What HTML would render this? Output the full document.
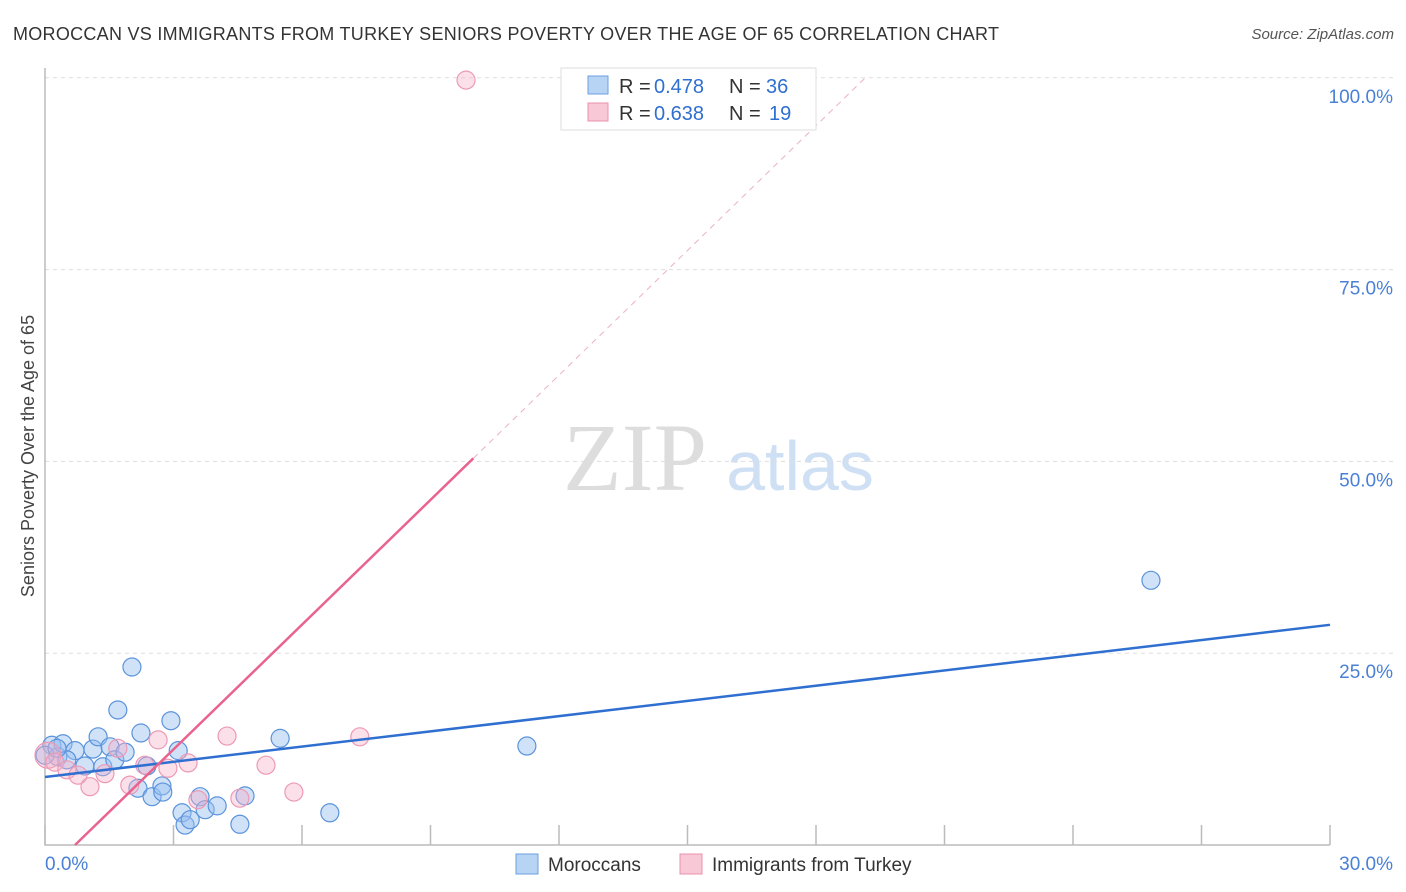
<!DOCTYPE html>
<html><head><meta charset="utf-8"><style>
body{margin:0;background:#fff;font-family:"Liberation Sans",sans-serif}
svg{display:block}
</style></head><body>
<svg width="1406" height="892" id="c">
<text x="13" y="40" font-size="18" fill="#333" textLength="986" lengthAdjust="spacing">MOROCCAN VS IMMIGRANTS FROM TURKEY SENIORS POVERTY OVER THE AGE OF 65 CORRELATION CHART</text>
<text x="1394" y="39" font-size="15" fill="#555" font-style="italic" text-anchor="end">Source: ZipAtlas.com</text>
<text x="34" y="456" font-size="18" fill="#444" text-anchor="middle" transform="rotate(-90 34 456)">Seniors Poverty Over the Age of 65</text>
<g><text x="635" y="490" font-size="96" fill="#ddd" font-family="Liberation Serif" text-anchor="middle">ZIP</text><text x="800" y="490" font-size="70" fill="#cfe0f5" text-anchor="middle">atlas</text></g>
<g id="grid"></g><g id="marks"></g>
<g>
<rect x="561" y="68" width="255" height="62" fill="#fff" stroke="#ddd"/>
<rect x="588" y="76" width="20" height="18" fill="#b8d4f5" stroke="#6a9fe0"/>
<text x="619" y="93" font-size="20" fill="#333">R =</text><text x="654" y="93" font-size="20" fill="#2f6fd0">0.478</text>
<text x="729" y="93" font-size="20" fill="#333">N =</text><text x="766" y="93" font-size="20" fill="#2f6fd0">36</text>
<rect x="588" y="103" width="20" height="18" fill="#f8c8d6" stroke="#e890ab"/>
<text x="619" y="120" font-size="20" fill="#333">R =</text><text x="654" y="120" font-size="20" fill="#2f6fd0">0.638</text>
<text x="729" y="120" font-size="20" fill="#333">N =</text><text x="769" y="120" font-size="20" fill="#2f6fd0">19</text>
</g>
<g>
<rect x="516" y="854" width="22" height="20" fill="#b8d4f5" stroke="#6a9fe0"/>
<text x="548" y="871" font-size="19" fill="#333">Moroccans</text>
<rect x="680" y="854" width="22" height="20" fill="#f8c8d6" stroke="#e890ab"/>
<text x="712" y="871" font-size="19" fill="#333">Immigrants from Turkey</text>
</g>
</svg>
<script>
const yTicks=[25,50,75,100];
const yTickLabels=["25.0%","50.0%","75.0%","100.0%"];
const blueX=[0.16,0.30,0.42,0.70,0.51,0.93,1.12,1.24,1.35,1.52,1.63,1.70,1.87,2.03,2.17,2.24,2.38,2.50,2.73,2.75,2.94,3.11,3.20,3.27,3.39,3.62,3.74,4.02,4.55,4.67,5.49,6.65,11.25,25.82,0.0,0.28];
const blueY=[13.0,11.5,13.2,12.3,11.1,10.3,12.5,14.1,10.2,12.8,11.1,17.6,12.1,23.2,7.4,14.6,10.3,6.3,7.7,6.9,16.2,12.3,4.2,2.6,3.3,6.3,4.6,5.1,2.7,6.4,13.9,4.2,12.9,34.5,11.7,12.6];
const pinkX=[0.07,0.23,0.51,0.77,1.05,1.40,1.70,1.98,2.33,2.64,2.87,3.34,3.57,4.25,4.55,5.16,5.81,7.35,9.83];
const pinkY=[11.7,10.8,9.8,9.1,7.6,9.3,12.6,7.8,10.4,13.7,10.0,10.7,5.9,14.2,6.1,10.4,6.9,14.1,99.7];
const blueLine=[8.86,28.7];
const pinkSlope=5.42, pinkIntercept=-3.8;
const X=v=>45+v*42.833, Y=v=>845-v*7.672;
const NS="http://www.w3.org/2000/svg";
function mk(t,a,p){const e=document.createElementNS(NS,t);for(const k in a)e.setAttribute(k,a[k]);p.appendChild(e);return e;}
const g=document.getElementById('grid'), m=document.getElementById('marks');
yTicks.forEach((t,i)=>{
 const l=mk('line',{x1:45,x2:1395,y1:Y(t),y2:Y(t),stroke:'#ddd','stroke-dasharray':'4,4'},g);
 
 
 const tx=mk('text',{x:1393,y:Y(t)+25,'font-size':19,fill:'#4a80d6','text-anchor':'end'},g);
 tx.textContent=yTickLabels[i];
 
 
});
const ax=mk('path',{d:'M45 68V845H1330',stroke:'#bbb',fill:'none','stroke-width':1.5},g);


for(let i=0;i<=10;i++){const t=mk('line',{x1:X(i*3),x2:X(i*3),y1:825,y2:845,stroke:'#bbb','stroke-width':1.5},g);
 
 }
[["0.0%",45,'start'],["30.0%",1393,'end']].forEach(a=>{const t=mk('text',{x:a[1],y:870,'font-size':19,fill:'#4a80d6','text-anchor':a[2]},g);t.textContent=a[0];
 
 });
blueX.forEach((x,i)=>{const c=mk('circle',{cx:X(x),cy:Y(blueY[i]),r:9,fill:'rgba(150,190,240,0.45)',stroke:'#5b93dc','stroke-width':1.2},m);
 
 });
pinkX.forEach((x,i)=>{const c=mk('circle',{cx:X(x),cy:Y(pinkY[i]),r:i==0?13:9,fill:'rgba(245,175,200,0.4)',stroke:'#ec9ab4','stroke-width':1.2},m);
 
 });
const bl=mk('line',{x1:X(0),y1:Y(blueLine[0]),x2:X(30),y2:Y(blueLine[1]),stroke:'#2f6fd0','stroke-width':2.5},m);


const x0=-pinkIntercept/pinkSlope, x1=10, x2=(100-pinkIntercept)/pinkSlope;
const pl=mk('line',{x1:X(x0),y1:Y(0),x2:X(x1),y2:Y(pinkSlope*x1+pinkIntercept),stroke:'#e8648f','stroke-width':2.5},m);


const pd=mk('line',{x1:X(x1),y1:Y(pinkSlope*x1+pinkIntercept),x2:X(x2),y2:Y(100),stroke:'#ecb0c2','stroke-width':1,'stroke-dasharray':'6,5'},m);


</script>
</body></html>
